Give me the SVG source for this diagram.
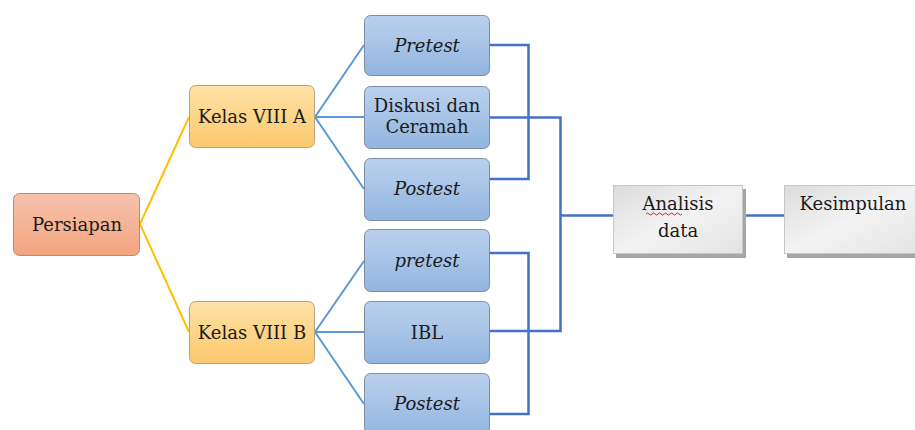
<svg xmlns="http://www.w3.org/2000/svg" width="915" height="430" viewBox="0 0 915 430">
<defs>
<linearGradient id="gSalmon" x1="0" y1="0" x2="0" y2="1"><stop offset="0" stop-color="#f6c3ad"/><stop offset="1" stop-color="#f3a47f"/></linearGradient>
<linearGradient id="gGold" x1="0" y1="0" x2="0" y2="1"><stop offset="0" stop-color="#fee2a6"/><stop offset="1" stop-color="#fbc86d"/></linearGradient>
<linearGradient id="gBlue" x1="0" y1="0" x2="0" y2="1"><stop offset="0" stop-color="#bad1ed"/><stop offset="1" stop-color="#92b5e0"/></linearGradient>
<linearGradient id="gGray" x1="0" y1="0" x2="1" y2="1"><stop offset="0" stop-color="#dcdcdc"/><stop offset="0.5" stop-color="#f3f3f3"/><stop offset="1" stop-color="#e3e3e3"/></linearGradient>
<style>
text{font-family:"DejaVu Serif","Liberation Serif",serif;font-size:18px;fill:#1a1a1a;text-anchor:middle}
.it{font-style:italic}
.salmon{fill:url(#gSalmon);stroke:#b58a7a;stroke-width:1}
.gold{fill:url(#gGold);stroke:#b9a27a;stroke-width:1}
.blue{fill:url(#gBlue);stroke:#7d8da3;stroke-width:1}
.gray{fill:url(#gGray);stroke:#c6c6c6;stroke-width:1}
.shadow{fill:#a6a6a6}
.ly{stroke:#ffc000;stroke-width:2;fill:none}
.lb{stroke:#5b9bd5;stroke-width:2;fill:none}
.ld{stroke:#4472c4;stroke-width:2.5;fill:none}
</style>
</defs>
<g id="connectors">
<polyline class="ly" points="189,117 140,224 189,332"/>
<polyline class="lb" points="364,45 315,117 364,189"/>
<line class="lb" x1="315" y1="117" x2="364" y2="117"/>
<polyline class="lb" points="364,261 315,332 364,404"/>
<line class="lb" x1="315" y1="332" x2="364" y2="332"/>
<polyline class="ld" points="489,45 528.5,45 528.5,179 489,179"/>
<polyline class="ld" points="489,253 528.5,253 528.5,414 489,414"/>
<polyline class="ld" points="489,117.5 560.5,117.5 560.5,331 489,331"/>
<line class="ld" x1="560.5" y1="215.5" x2="613" y2="215.5"/>
<line class="ld" x1="743" y1="215.5" x2="784" y2="215.5"/>
</g>
<g id="persiapan"><rect class="salmon" x="13.5" y="193.5" width="126" height="62" rx="6"/><text x="77" y="231">Persiapan</text></g>
<g id="kelasA"><rect class="gold" x="189.5" y="85.5" width="125" height="62" rx="6"/><text x="252" y="123">Kelas VIII A</text></g>
<g id="kelasB"><rect class="gold" x="189.5" y="301.5" width="125" height="62" rx="6"/><text x="252" y="339">Kelas VIII B</text></g>
<g id="pretestA"><rect class="blue" x="364.5" y="15.5" width="125" height="60" rx="6"/><text class="it" x="427" y="52">Pretest</text></g>
<g id="diskusi"><rect class="blue" x="364.5" y="86.5" width="125" height="62" rx="6"/><text x="427" y="112">Diskusi dan</text><text x="427" y="133">Ceramah</text></g>
<g id="postestA"><rect class="blue" x="364.5" y="158.5" width="125" height="62" rx="6"/><text class="it" x="427" y="195">Postest</text></g>
<g id="pretestB"><rect class="blue" x="364.5" y="229.5" width="125" height="62" rx="6"/><text class="it" x="427" y="267">pretest</text></g>
<g id="ibl"><rect class="blue" x="364.5" y="301.5" width="125" height="62" rx="6"/><text x="427" y="339">IBL</text></g>
<g id="postestB"><rect class="blue" x="364.5" y="373.5" width="125" height="62" rx="6"/><text class="it" x="427" y="410">Postest</text></g>
<g id="analisis"><rect class="shadow" x="616" y="189" width="130" height="69"/><rect class="gray" x="613.5" y="185.5" width="129" height="68"/><text x="678" y="210">Analisis</text><path d="M646,214 q1.5,-2 3,0 t3,0 t3,0 t3,0 t3,0 t3,0 t3,0 t3,0 t3,0 t3,0 t3,0 t3,0" fill="none" stroke="#e02020" stroke-width="1"/><text x="678" y="237">data</text></g>
<g id="kesimpulan"><rect class="shadow" x="787" y="189" width="130" height="69"/><rect class="gray" x="784.5" y="185.5" width="135" height="68"/><text x="853" y="210">Kesimpulan</text></g>
</svg>
